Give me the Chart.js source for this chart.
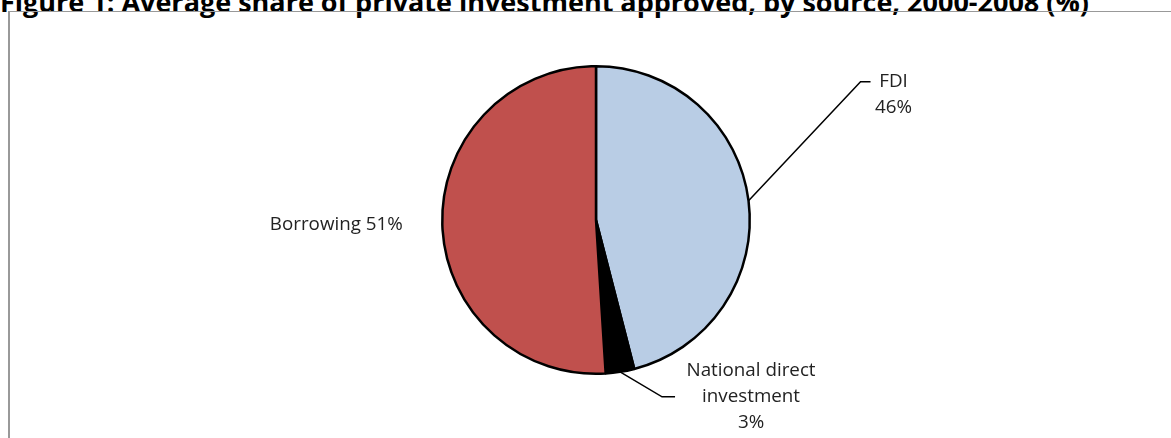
<!DOCTYPE html>
<html>
<head>
<meta charset="utf-8">
<script src="https://cdn.jsdelivr.net/npm/chart.js@4.4.0/dist/chart.umd.min.js"></script>
<style>
  html, body { margin: 0; padding: 0; background: #fff; overflow: hidden; }
  #wrap { position: relative; width: 1171px; height: 438px; }
  #title {
    position: absolute; left: 0; top: -17px; white-space: nowrap;
    font: bold 27px "Open Sans", sans-serif; color: #000;
  }
  #frame {
    position: absolute; left: 8px; top: 11px; width: 1200px; height: 500px;
    border-top: 1.5px solid #999; border-left: 2px solid #999;
  }
  canvas { position: absolute; left: 0; top: 0; }
</style>
</head>
<body>
<div id="wrap">
  <div id="title">Figure 1: Average share of private investment approved, by source, 2000-2008 (%)</div>
  <div id="frame"></div>
  <canvas id="pie" width="1171" height="438"></canvas>
</div>
<script>
// share of approved private investment by source, 2000-2008
const sources = ["FDI", "National direct investment", "Borrowing"]
const shares = [46, 3, 51]
const labelLines = [["FDI", "46%"], ["National direct", "investment", "3%"], ["Borrowing 51%"]]
const colors = ["#B9CDE5", "#000000", "#C0504D"]

// where each label sits relative to the slice edge, and whether it gets a leader line
const labelPlacement = [
  { dx: 145, dy: -106, leader: [[112, -119], [122, -119]] },
  { dx: 131, dy: 25, leader: [[42, 25], [55, 25]] },
  { dx: -106, dy: 0, leader: null },
]

const pieLabels = {
  id: "pieLabels",
  afterDatasetsDraw(chart) {
    const ctx = chart.ctx
    const meta = chart.getDatasetMeta(0)
    ctx.save()
    ctx.font = '18.8px "Open Sans", sans-serif'
    ctx.fillStyle = "#222"
    ctx.textAlign = "center"
    ctx.textBaseline = "middle"
    meta.data.forEach((arc, i) => {
      const { x, y, startAngle, endAngle, outerRadius } = arc.getProps(
        ["x", "y", "startAngle", "endAngle", "outerRadius"], true)
      const mid = (startAngle + endAngle) / 2
      const ex = x + Math.cos(mid) * outerRadius
      const ey = y + Math.sin(mid) * outerRadius
      const p = labelPlacement[i]
      if (p.leader) {
        ctx.strokeStyle = "#000"
        ctx.lineWidth = 1.5
        ctx.beginPath()
        ctx.moveTo(ex, ey)
        p.leader.forEach(([lx, ly]) => ctx.lineTo(ex + lx, ey + ly))
        ctx.stroke()
      }
      const lines = labelLines[i]
      const lh = 26
      const top = ey + p.dy - (lines.length - 1) * lh / 2
      lines.forEach((t, k) => ctx.fillText(t, ex + p.dx, top + k * lh))
    })
    ctx.restore()
  },
}

new Chart(document.getElementById("pie"), {
  type: "pie",
  data: {
    labels: sources,
    datasets: [{
      data: shares,
      backgroundColor: colors,
      borderColor: "#000",
      borderWidth: 2.5,
    }],
  },
  options: {
    responsive: false,
    animation: false,
    layout: { padding: { left: 100, right: 79, top: 65, bottom: 63 } },
    plugins: { legend: { display: false }, tooltip: { enabled: false } },
  },
  plugins: [pieLabels],
})
</script>
</body>
</html>
